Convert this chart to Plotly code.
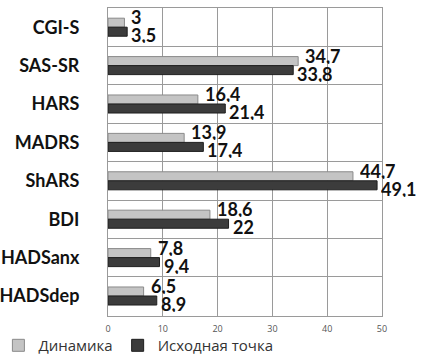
import plotly.graph_objects as go

categories = ["CGI-S", "SAS-SR", "HARS", "MADRS", "ShARS", "BDI", "HADSanx", "HADSdep"]
dinamika = [3, 34.7, 16.4, 13.9, 44.7, 18.6, 7.8, 6.5]
iskhodnaya = [3.5, 33.8, 21.4, 17.4, 49.1, 22, 9.4, 8.9]
x_ticks = [0, 10, 20, 30, 40, 50]
series_names = ["Динамика", "Исходная точка"]

def fmt(v):
    return (str(int(v)) if float(v).is_integer() else str(v)).replace(".", ",")

fig = go.Figure()
fig.add_trace(go.Bar(
    y=categories, x=dinamika, orientation="h", name=series_names[0],
    marker=dict(color="#c4c4c4", line=dict(color="#8a8a8a", width=1)),
))
fig.add_trace(go.Bar(
    y=categories, x=iskhodnaya, orientation="h", name=series_names[1],
    marker=dict(color="#3c3c3c", line=dict(color="#1e1e1e", width=1)),
))

lab_font = dict(family="Lato", size=18, color="#111111", weight="bold")
annotations = []
for c, v in zip(categories, dinamika):
    annotations.append(dict(x=v, y=c, xref="x", yref="y", text=fmt(v), showarrow=False,
                            xanchor="left", yanchor="middle", xshift=5, yshift=10,
                            height=16, valign="middle", font=lab_font))
for c, v in zip(categories, iskhodnaya):
    annotations.append(dict(x=v, y=c, xref="x", yref="y", text=fmt(v), showarrow=False,
                            xanchor="left", yanchor="middle", xshift=2, yshift=-8,
                            height=16, valign="middle", font=lab_font))

fig.update_layout(
    width=422, height=355,
    margin=dict(l=108, r=40, t=8, b=39, autoexpand=False),
    barmode="group", bargap=0.53, bargroupgap=0,
    paper_bgcolor="white", plot_bgcolor="white",
    font=dict(family="Lato", color="#222222"),
    showlegend=True,
    legend=dict(orientation="h", xref="paper", yref="paper",
                x=-0.40, xanchor="left", y=-0.096, yanchor="middle",
                font=dict(family="Open Sans", size=15, color="#333333"),
                traceorder="normal", itemwidth=30, bgcolor="rgba(0,0,0,0)"),
    annotations=annotations,
    xaxis=dict(range=[0, 50], tickvals=x_ticks, showgrid=True, gridcolor="#9a9a9a",
               gridwidth=1, zeroline=False, showline=True, linecolor="#9a9a9a", mirror=True,
               tickfont=dict(family="Open Sans", size=9, color="#555555"),
               ticks="", ticklabelstandoff=4, automargin=False),
    yaxis=dict(categoryorder="array", categoryarray=categories, autorange="reversed",
               showgrid=True, gridcolor="#9a9a9a", tickson="boundaries", ticks="",
               showline=True, linecolor="#9a9a9a", mirror=True,
               tickfont=dict(family="Lato", size=18, color="#111111", weight="bold"),
               ticklabelstandoff=24, automargin=False),
)

fig.write_html("out.html", post_script="document.body.style.margin='0';",
               config={"displayModeBar": False})
